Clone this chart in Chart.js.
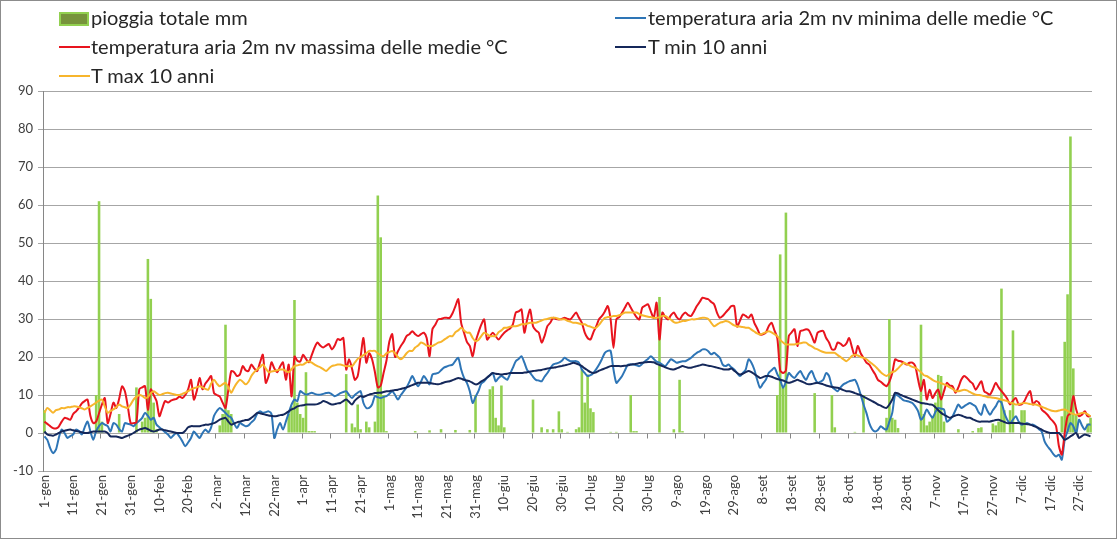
<!DOCTYPE html>
<html><head><meta charset="utf-8">
<script src="https://cdn.jsdelivr.net/npm/chart.js@4/dist/chart.umd.min.js"></script>
<style>
html,body{margin:0;padding:0;background:#fff;}
#wrap{position:absolute;left:0;top:0;width:1115px;height:537px;border:1px solid #8c8c8c;background:#fff;overflow:hidden;}
#c{position:absolute;left:0;top:0;}
.lg{position:absolute;font-family:Lato,'Liberation Sans',sans-serif;font-size:20px;color:#262626;white-space:nowrap;line-height:22px;}
.sw{position:absolute;}
</style></head><body>
<div id="wrap"><canvas id="c" width="1115" height="537"></canvas><div id="legend"></div></div>
<script>
const months = ['gen','feb','mar','apr','mag','giu','lug','ago','set','ott','nov','dic'];
const monthDays = [31,28,31,30,31,30,31,31,30,31,30,31];
const days = [];
months.forEach((m,mi)=>{ for(let d=1; d<=monthDays[mi]; d++) days.push(d+'-'+m); });

const seriesNames = ['pioggia totale mm','temperatura aria 2m nv minima delle medie °C','temperatura aria 2m nv massima delle medie °C','T min 10 anni','T max 10 anni'];

const rain = [
6,0,0,0,0,0,0,0,0,0,
0,0,0,0,0,0,0,0,10,61,
3,0,0,0,0,0,5,0,0,0,
0,0,12,0,3,4,45.8,35.3,8,1,
0,0,0,0,0,0,0,0,0,0,
0,0,0,0,0,0,0,0,0,0,
0,2,5,28.5,6,5,0,0,0,0,
0,0,0,0,0,0,0,0,0,0,
0,0,0,0,0,5,7,35,8,5,
4,16,0.5,0.5,0.5,0,0,0,0,0,
0,0,0,0,0,15.5,0,2.5,1.5,7.5,
1,0,3,1.5,0,3,62.5,51.5,10,0.5,
0,0,0,0,0,0,0,0,0,0.5,
0,0,0,0,0.7,0,0,0,1,0,
0,0,0,0.8,0,0,0,0,0.8,0,
10,0,0,0,0,11.5,12.3,4,2,12.5,
1.5,0,0,0,0,0,0,0,0,0,
8.8,0,0,1.5,0,1,0,1,0,5.7,
1,0,0.3,0,0,1,1.5,16.8,8,15.4,
6.5,5.5,0,0,0,0,0,0.3,0,0.3,
0,0,0,0,10,0.5,0.5,0,0,0,
0,0,0,0,35.8,0,0,0,0,1,
0,14,0.5,0,0,0,0,0,0,0,
0,0,0,0,0,0,0,0,0,0,
0,0,0,0,0,0,0,0,0,0,
0,0,0,0,0,10,47,12,58,0,
0,0,0,0,0,0,0,0,10.5,0,
0,0,0,0,10,1.5,0,0,0,0,
0,0,0.3,0,0,10,0,0,0,0,
0,0,0,4,30,4,3.5,1.3,0,0,
0,0,0,0,0,28.5,5,2,3,4.5,
8,15.3,15,3,0,0,0,0,1,0,
0,0,0,0.5,0,1.3,1.5,0,0,0,
2.5,2,3,38,6,0,6,27,0,0,
6,6,0,0,0,0,0,0,0,0,
0,0,0,0,4.4,24,36.5,78,17,5,
0,0,0,2.5,4
];

const tMin = [
-0.9,-1.8,-4.0,-5.3,-4.4,-1.3,0.9,0.0,-1.3,-0.8,
-0.4,0.9,0.5,-0.4,1.5,3.0,0.4,-1.8,0.5,1.8,
2.6,2.2,1.8,0.4,2.6,2.2,1.0,0.4,2.6,2.4,
2.2,1.8,2.6,3.2,4.0,5.3,4.5,3.5,4.0,2.2,
1.5,0.9,0.2,-0.4,-1.3,-0.5,0.0,-1.0,-2.2,-3.5,
-2.5,-1.3,0.4,-0.5,-1.3,0.0,0.9,0.2,1.5,4.5,
5.8,6.6,6.0,5.3,4.5,4.0,2.5,1.3,2.6,2.2,
1.8,2.0,2.8,3.5,5.0,5.7,5.3,5.5,5.7,5.0,
-1.3,1.0,2.6,0.9,3.0,5.3,7.5,8.8,8.4,11.0,
10.5,10.1,10.3,10.6,10.3,10.1,10.1,10.3,10.5,10.6,
10.2,9.7,10.0,10.5,10.8,11.0,10.0,9.2,10.0,10.6,
11.0,7.9,6.6,6.6,7.5,9.7,9.4,9.2,9.5,9.7,
10.3,11.0,10.0,8.8,10.0,11.0,12.0,13.5,15.0,13.5,
12.3,13.5,15.0,14.0,12.8,15.4,15.6,15.8,16.5,17.2,
17.5,17.8,18.0,19.0,19.8,16.7,14.5,13.2,11.0,7.9,
9.5,11.0,13.0,13.6,14.5,15.2,15.8,13.6,14.5,15.0,
14.5,14.0,15.5,17.2,18.9,19.5,20.2,18.5,16.5,15.8,
14.8,14.0,13.8,13.6,14.8,15.8,17.0,18.0,18.3,18.5,
19.0,19.8,19.3,18.9,18.9,18.9,18.5,16.7,15.8,15.0,
15.2,15.8,16.8,18.0,19.5,21.1,21.6,21.6,16.7,13.2,
14.0,15.0,16.5,18.0,18.0,18.0,17.8,17.6,18.2,18.9,
19.5,20.2,19.5,18.8,18.5,18.0,17.6,18.5,19.4,19.0,
18.5,18.7,18.9,18.9,19.3,19.8,20.5,21.1,21.5,22.0,
22.0,21.5,20.7,21.1,20.5,19.8,18.0,17.6,18.0,17.3,
16.7,15.8,15.0,15.8,16.7,19.4,18.5,16.7,14.0,11.9,
13.0,14.0,15.8,16.5,17.2,15.5,14.0,11.9,13.5,15.8,
15.0,14.5,15.5,16.3,15.0,14.0,15.5,16.3,14.5,13.2,
13.5,14.0,15.8,15.0,12.3,11.5,11.0,12.0,12.8,13.2,
13.6,13.8,14.0,12.5,10.1,7.5,5.3,2.6,1.0,0.4,
0.8,1.8,1.2,0.9,3.0,5.3,10.1,9.8,9.2,8.6,
8.4,8.2,7.9,7.0,5.7,3.5,4.5,6.2,5.0,4.0,
5.5,6.6,6.4,6.2,3.0,3.5,4.4,6.0,7.5,6.6,
7.0,7.5,7.9,7.5,7.0,5.5,4.8,7.5,6.0,4.8,
6.0,7.0,8.4,8.0,5.3,3.5,2.6,3.5,4.4,3.0,
2.2,2.4,2.6,2.2,2.2,1.8,1.0,0.4,-2.2,-3.5,
-4.4,-5.5,-6.2,-5.7,-7.0,-1.8,0.5,2.6,1.8,0.0,
3.5,2.0,0.9,2.2,2.2
];

const tMax = [
3.0,2.4,1.8,1.3,1.2,1.7,3.0,4.0,3.8,3.5,
5.0,5.7,6.6,7.8,8.4,8.8,4.5,2.6,3.0,5.2,
7.5,9.2,2.6,5.0,8.0,6.6,9.0,12.3,11.0,7.0,
2.6,2.6,2.8,11.5,12.0,12.3,6.1,11.5,10.0,8.4,
4.4,6.5,8.4,8.0,8.5,8.8,9.0,9.6,9.2,10.0,
11.5,14.0,8.8,11.0,14.5,11.5,13.0,14.0,15.0,10.5,
10.0,9.6,8.0,6.6,11.5,16.3,16.0,15.0,15.4,17.6,
16.5,16.3,18.0,17.0,16.3,18.5,20.6,13.2,15.0,18.6,
17.0,16.0,17.5,18.6,14.0,18.0,9.6,20.1,19.0,18.8,
20.6,19.5,18.6,20.5,22.5,23.8,23.0,22.5,23.0,23.4,
22.0,23.0,24.7,24.5,25.0,16.7,19.4,17.0,14.0,15.0,
20.0,25.0,18.5,21.0,19.4,16.0,12.0,12.5,15.8,19.0,
24.0,26.0,20.0,21.5,22.9,24.0,25.5,26.0,26.8,26.0,
25.5,26.0,26.4,25.0,20.2,27.3,28.5,29.9,30.0,30.3,
30.3,30.3,31.5,33.4,35.2,29.0,26.4,24.0,22.9,20.2,
24.0,26.4,28.5,29.9,24.6,25.5,26.4,25.5,24.6,25.5,
26.4,27.0,27.5,28.6,31.7,32.0,32.5,26.4,30.0,32.5,
28.1,27.0,26.4,23.8,25.5,28.1,29.0,30.3,30.0,29.9,
30.0,30.3,30.0,29.9,30.8,31.7,30.3,29.0,26.4,25.0,
24.6,26.5,28.1,30.0,30.8,32.0,33.4,29.9,22.4,29.9,
30.5,31.7,33.0,34.3,33.0,31.7,30.5,29.9,33.0,33.5,
33.9,32.0,30.3,34.3,24.6,31.7,30.5,29.9,31.0,31.7,
30.5,29.9,31.0,31.7,31.0,30.8,32.0,33.4,34.5,35.6,
35.4,35.2,34.5,33.9,31.7,30.3,30.8,31.7,32.5,33.4,
33.4,28.0,29.5,31.2,30.8,30.3,31.2,29.0,27.5,25.9,
26.0,26.4,28.1,29.0,27.0,25.0,16.5,15.8,16.5,25.5,
26.5,27.3,22.9,26.8,27.0,27.3,27.0,25.5,23.8,26.4,
26.8,26.8,25.0,23.8,22.0,22.0,23.8,23.5,22.9,23.5,
25.0,22.5,20.2,22.9,21.0,19.8,18.5,18.0,16.7,15.5,
14.0,13.5,12.8,12.3,13.5,15.8,19.4,19.0,18.9,18.5,
18.0,18.5,18.5,17.6,14.0,11.0,14.0,8.8,11.4,9.2,
10.5,11.4,8.8,11.0,13.2,12.5,12.3,10.6,12.0,14.0,
15.0,14.5,13.6,13.0,11.4,12.5,13.6,11.0,10.5,10.1,
11.5,13.2,12.0,11.0,10.1,9.0,7.5,8.5,9.2,7.5,
7.5,8.4,10.0,11.0,7.5,8.4,8.0,6.2,5.5,4.8,
3.8,3.0,1.8,-3.5,-5.7,0.0,4.4,5.3,9.7,6.2,
4.4,4.8,5.7,4.4,4.4
];

const tMin10 = [
0.4,-0.4,-0.6,-0.7,-0.4,0.0,0.4,0.6,0.8,0.9,
0.7,0.5,0.4,0.2,0.0,0.0,0.2,0.4,0.4,0.4,
0.4,0.4,0.0,-0.9,-0.9,-0.9,-1.1,-1.3,-1.0,-0.7,
-0.4,0.0,0.5,0.9,1.1,1.3,1.0,0.6,0.4,0.6,
0.9,0.9,0.7,0.5,0.4,0.2,0.0,0.0,0.0,0.6,
1.5,1.8,1.8,1.8,1.8,2.0,2.2,2.2,2.4,2.6,
3.0,3.5,3.8,4.0,3.0,2.2,2.5,2.8,3.0,3.2,
3.4,3.5,4.0,4.6,5.3,5.2,5.0,4.8,4.6,4.5,
4.4,4.5,4.7,4.8,5.2,5.7,6.2,6.5,7.0,7.2,
7.3,7.5,7.5,7.5,7.5,7.6,7.9,8.4,8.2,7.8,
7.5,7.6,7.8,7.9,8.4,8.8,8.2,7.5,8.5,9.2,
9.7,9.5,9.8,10.1,10.3,10.5,10.6,10.6,10.8,11.0,
11.0,11.2,11.3,11.4,11.6,11.8,12.0,12.3,12.6,12.9,
13.2,13.2,13.2,13.2,13.2,13.0,12.9,12.8,13.0,13.3,
13.5,13.6,13.9,14.2,14.5,14.3,14.0,13.8,13.6,13.2,
12.8,13.0,13.6,14.0,14.6,15.2,15.8,15.6,15.5,15.4,
15.5,15.6,15.8,15.8,15.8,15.8,15.8,15.9,16.0,16.2,
16.3,16.4,16.5,16.6,16.8,17.0,17.1,17.2,17.3,17.5,
17.6,17.8,18.0,18.2,18.5,18.3,18.0,17.6,17.0,16.5,
16.0,15.8,16.0,16.4,16.7,17.0,17.3,17.6,17.6,17.6,
17.6,17.6,17.7,17.8,18.0,18.1,18.2,18.4,18.5,18.6,
18.7,18.7,18.6,18.2,17.9,17.6,17.3,17.0,16.8,16.7,
17.0,17.3,17.6,17.4,17.2,17.2,17.4,17.6,17.8,18.0,
17.9,17.7,17.6,17.4,17.2,17.0,16.8,16.7,16.7,17.0,
16.4,15.8,15.4,15.6,16.0,16.3,16.0,15.5,15.0,14.5,
14.7,15.0,15.0,14.8,14.5,14.2,14.0,13.8,13.5,13.2,
13.4,13.7,14.0,13.7,13.4,13.0,12.8,12.9,13.1,13.2,
13.0,12.8,12.5,12.3,12.1,12.0,11.9,11.6,11.3,11.0,
11.0,10.8,10.5,10.2,10.0,9.6,9.2,8.8,8.4,8.0,
7.5,7.2,6.8,6.6,7.5,8.8,10.6,10.4,10.0,9.7,
9.4,9.1,8.8,8.5,8.2,7.9,7.8,7.7,7.5,7.4,
6.8,6.0,5.3,4.8,4.4,4.0,4.3,4.6,4.8,4.6,
4.3,4.0,4.0,3.6,3.3,3.0,3.0,3.0,3.0,3.0,
3.2,3.4,3.5,3.2,2.9,2.6,2.6,2.6,2.6,2.6,
2.5,2.4,2.3,2.2,1.9,1.6,1.3,0.9,0.5,0.2,
0.0,0.0,0.0,0.0,-0.8,-1.8,-1.4,-0.9,-0.4,0.0,
-1.3,-0.8,-0.4,-0.6,-0.9
];

const tMax10 = [
5.3,6.6,6.0,5.3,6.0,6.2,6.6,6.5,6.8,6.8,
7.0,7.0,6.8,6.5,6.2,6.6,7.0,7.5,8.0,8.5,
8.8,7.0,5.3,5.8,6.2,6.8,7.5,7.0,6.8,6.6,
7.5,8.8,9.5,10.0,9.8,9.2,9.5,10.5,11.0,10.5,
10.0,10.2,10.5,10.6,10.4,10.2,10.0,10.0,10.3,10.6,
11.0,11.5,11.8,12.0,12.3,12.0,11.6,11.4,13.0,14.0,
13.0,12.3,12.8,13.2,12.0,10.6,12.0,13.2,14.0,13.5,
12.8,13.5,15.0,16.0,16.7,17.3,18.0,17.0,16.0,16.2,
16.3,16.5,16.7,16.7,16.3,16.0,16.8,17.6,17.8,18.0,
18.0,18.5,18.9,18.5,18.0,17.6,17.3,16.8,16.3,17.0,
17.6,17.8,18.0,18.0,17.8,17.6,17.6,17.6,18.5,19.5,
20.0,20.5,21.0,21.6,21.6,21.6,21.0,20.5,20.2,21.0,
21.3,21.6,21.0,20.0,19.4,20.0,21.0,21.6,21.6,22.5,
23.0,23.8,23.5,23.0,22.9,22.9,23.3,23.8,24.0,24.5,
25.0,25.5,25.5,26.5,27.0,27.7,27.0,26.4,26.4,25.0,
24.2,24.5,25.5,26.4,26.0,25.5,25.5,25.5,26.5,27.0,
27.7,27.7,28.0,28.1,28.1,28.3,28.6,28.6,28.8,29.0,
29.0,29.0,29.3,29.6,29.9,30.0,30.3,30.3,30.3,30.0,
29.9,29.9,29.5,29.3,29.0,29.0,28.8,28.6,28.6,28.2,
28.0,27.7,27.7,28.5,29.5,30.3,30.5,30.6,30.8,30.8,
31.0,31.3,31.7,31.7,31.7,31.7,31.7,31.3,31.0,30.8,
30.6,30.5,30.3,30.3,30.5,30.8,30.8,30.3,29.8,29.2,
29.0,29.2,29.5,29.5,29.7,29.9,29.9,30.0,30.2,30.3,
30.3,30.0,29.0,28.1,28.5,29.0,29.2,29.5,29.3,28.8,
28.3,28.1,28.0,27.9,27.7,27.7,27.2,26.7,26.2,25.9,
26.2,26.5,26.8,26.5,26.0,25.5,24.5,23.8,23.3,23.3,
23.3,23.3,23.5,23.6,23.8,23.8,23.2,22.8,22.3,22.0,
21.6,21.3,21.1,21.1,21.1,21.1,20.5,20.0,19.4,18.9,
19.5,20.3,20.6,20.4,20.0,19.8,19.4,18.8,18.2,17.6,
16.8,16.0,15.4,15.0,15.5,16.0,16.3,17.0,17.8,18.5,
18.2,17.8,17.4,17.2,16.6,16.0,15.2,15.0,14.5,14.0,
13.6,13.4,13.1,12.8,12.5,12.0,11.6,11.0,11.0,11.2,
11.4,11.2,10.8,10.4,10.1,10.0,9.9,9.7,9.5,9.4,
9.3,9.2,9.0,8.8,8.6,8.4,8.0,7.8,7.5,7.6,
7.8,7.9,7.8,7.6,7.5,7.5,7.2,6.9,6.6,6.3,
6.0,5.8,5.7,5.9,6.1,6.2,5.8,5.3,5.0,4.8,
5.0,5.3,5.3,4.9,4.4
];

const yTicks = {min:-10, max:90, step:10};
const colors = {rain:'#92d050', rainKey:'#77933c', tMin:'#2e75b6', tMax:'#e8141e', tMin10:'#15285a', tMax10:'#f7b52c'};

// legend (HTML, real text)
const legendItems = [
  {name:seriesNames[0], type:'box', color:colors.rainKey, border:colors.rain, x:58, y:17, tx:90},
  {name:seriesNames[1], type:'line', color:colors.tMin, x:614, y:17, tx:647},
  {name:seriesNames[2], type:'line', color:colors.tMax, x:58, y:46, tx:90},
  {name:seriesNames[3], type:'line', color:colors.tMin10, x:614, y:46, tx:647},
  {name:seriesNames[4], type:'line', color:colors.tMax10, x:58, y:75, tx:90}
];
const lg = document.getElementById('legend');
legendItems.forEach(it=>{
  const sw = document.createElement('div'); sw.className='sw';
  if(it.type==='box'){
    sw.style.cssText = `left:${it.x}px;top:${it.y-6}px;width:26px;height:10px;background:${it.color};border:2px solid ${it.border};`;
  } else {
    sw.style.cssText = `left:${it.x}px;top:${it.y-1}px;width:31px;height:2px;background:${it.color};`;
  }
  lg.appendChild(sw);
  const t = document.createElement('div'); t.className='lg'; t.textContent = it.name;
  t.style.left = it.tx+'px'; t.style.top = (it.y-12)+'px';
  lg.appendChild(t);
});

const zeroTicks = {
  id:'zeroTicks',
  beforeDatasetsDraw(chart){
    const xs = chart.scales.x, ys = chart.scales.y, ctx = chart.ctx;
    const y0 = Math.round(ys.getPixelForValue(0)) + 0.5;
    const half = (xs.getPixelForValue(1) - xs.getPixelForValue(0)) / 2;
    ctx.save();
    ctx.strokeStyle = '#868686'; ctx.lineWidth = 1;
    ctx.beginPath();
    for(let i=0; i<days.length; i+=10){
      const px = Math.round(xs.getPixelForValue(i) - half) + 0.5;
      ctx.moveTo(px, y0); ctx.lineTo(px, y0 + 5);
    }
    ctx.stroke();
    ctx.restore();
  }
};

const lineDs = (label, data, color, order) => ({
  type:'line', label, data, borderColor:color, backgroundColor:color,
  borderWidth:2, pointRadius:0, tension:0.25, order, fill:false
});

new Chart(document.getElementById('c'), {
  data:{
    labels: days,
    datasets:[
      {type:'bar', label:seriesNames[0], data:rain, backgroundColor:colors.rain, barPercentage:0.9, categoryPercentage:1.0, order:10},
      lineDs(seriesNames[1], tMin, colors.tMin, 5),
      lineDs(seriesNames[2], tMax, colors.tMax, 4),
      lineDs(seriesNames[3], tMin10, colors.tMin10, 3),
      lineDs(seriesNames[4], tMax10, colors.tMax10, 2)
    ]
  },
  options:{
    responsive:false, animation:false, devicePixelRatio:1,
    layout:{padding:{top:90, right:24, left:0, bottom:0}},
    plugins:{legend:{display:false}, tooltip:{enabled:false}},
    scales:{
      x:{
        grid:{display:false, drawTicks:false},
        border:{display:false},
        ticks:{autoSkip:false, maxRotation:90, minRotation:90, padding:4,
          font:{family:'Lato', size:13}, color:'#404040',
          callback:(v,i)=> i%10===0 ? days[i] : ''},
        afterFit:s=>{s.height=67;}
      },
      y:{
        min:yTicks.min, max:yTicks.max,
        ticks:{stepSize:yTicks.step, padding:5, font:{family:'Lato', size:13}, color:'#404040'},
        grid:{color:'#a6a6a6', tickLength:5, drawTicks:true},
        border:{color:'#868686'},
        afterFit:s=>{s.width=42;}
      }
    }
  },
  plugins:[zeroTicks]
});
</script>
</body></html>
